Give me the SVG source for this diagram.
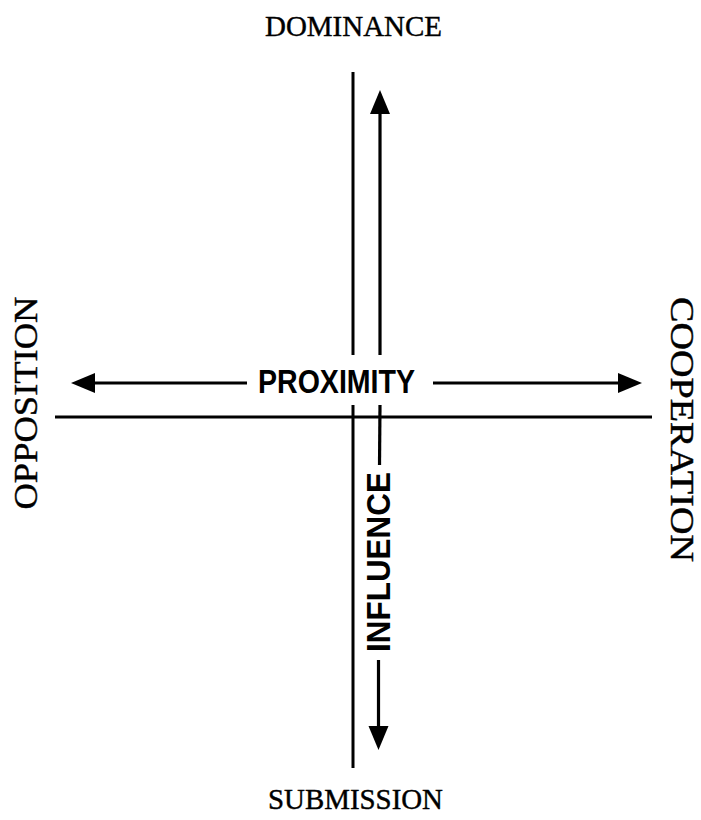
<svg xmlns="http://www.w3.org/2000/svg" width="701" height="820" viewBox="0 0 701 820">
<style>
.serif{font-family:"Liberation Serif","Times New Roman",serif;fill:#000;stroke:#000;stroke-width:0.4}
.sans{font-family:"Liberation Sans",Arial,sans-serif;font-weight:bold;fill:#000}
.axis{stroke:#000;stroke-width:3;fill:none}
.arr{stroke:#000;stroke-width:3.2;fill:none}
</style>
<defs>
<marker id="ah" markerUnits="userSpaceOnUse" markerWidth="26" markerHeight="22" refX="4" refY="10" orient="auto">
<path d="M0,0 L24,10 L0,20 z" fill="#000"/>
</marker>
</defs>
<rect x="0" y="0" width="701" height="820" fill="#fff"/>
<g id="connectors">
<line class="axis" x1="353" y1="72" x2="353" y2="355"/>
<line class="axis" x1="353" y1="405" x2="353" y2="768"/>
<line class="axis" x1="55" y1="417" x2="652" y2="417"/>
<line class="arr" x1="380" y1="355" x2="380" y2="110" marker-end="url(#ah)"/>
<line class="arr" x1="380" y1="405" x2="379.5" y2="465"/>
<line class="arr" x1="378.5" y1="660" x2="378.5" y2="730" marker-end="url(#ah)"/>
<line class="arr" x1="247" y1="383" x2="91" y2="383" marker-end="url(#ah)"/>
<line class="arr" x1="433" y1="383" x2="622" y2="383" marker-end="url(#ah)"/>
</g>
<g id="dominance"><text class="serif" x="353.5" y="36" font-size="30" text-anchor="middle" textLength="177" lengthAdjust="spacingAndGlyphs">DOMINANCE</text></g>
<g id="submission"><text class="serif" x="355.5" y="809" font-size="29" text-anchor="middle" textLength="175" lengthAdjust="spacingAndGlyphs">SUBMISSION</text></g>
<g id="opposition"><text class="serif" transform="translate(37,403) rotate(-90)" x="0" y="0" font-size="33" text-anchor="middle" textLength="213" lengthAdjust="spacingAndGlyphs">OPPOSITION</text></g>
<g id="cooperation"><text class="serif" transform="translate(671,429.5) rotate(90)" x="0" y="0" font-size="33" text-anchor="middle" textLength="265" lengthAdjust="spacingAndGlyphs">COOPERATION</text></g>
<g id="proximity"><text class="sans" x="336.5" y="393" font-size="33" text-anchor="middle" textLength="157" lengthAdjust="spacingAndGlyphs">PROXIMITY</text></g>
<g id="influence"><text class="sans" transform="translate(390,562) rotate(-90)" x="0" y="0" font-size="33" text-anchor="middle" textLength="180" lengthAdjust="spacingAndGlyphs">INFLUENCE</text></g>
</svg>
